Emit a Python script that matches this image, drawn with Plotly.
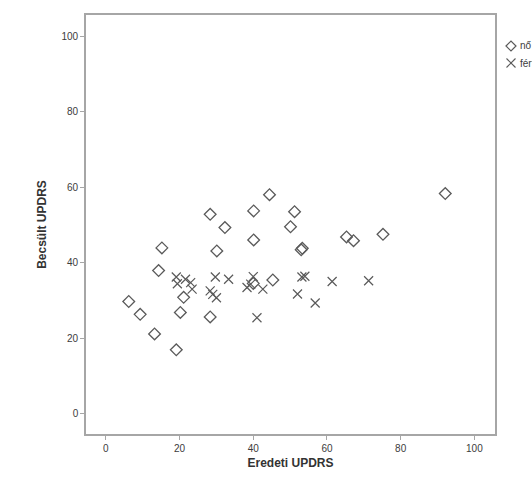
import plotly.graph_objects as go

# Eredeti vs. becsült UPDRS, nemek szerint
no_eredeti = [6.2, 9.3, 13.2, 14.3, 15.2, 19.1, 20.2, 21.1, 28.3, 28.3, 30.1, 32.3,
              40.1, 40.1, 40.0, 44.4, 45.3, 50.1, 51.2, 53.0, 53.3, 65.3, 67.2, 75.2, 92.1]
no_becsult = [29.7, 26.3, 21.1, 37.9, 43.9, 16.9, 26.8, 30.8, 25.6, 52.8, 43.1, 49.3,
              53.7, 46.0, 34.5, 58.0, 35.4, 49.5, 53.5, 43.4, 43.8, 46.8, 45.8, 47.5, 58.3]

ferfi_eredeti = [19.1, 19.4, 21.6, 23.0, 23.4, 28.3, 29.0, 30.0, 29.7, 33.3, 38.3, 39.3,
                 40.0, 42.6, 41.0, 52.0, 53.2, 54.0, 56.8, 61.4, 71.3]
ferfi_becsult = [36.2, 34.4, 35.6, 34.7, 33.0, 32.5, 31.6, 30.7, 36.2, 35.6, 33.4, 34.3,
                 36.3, 33.0, 25.4, 31.7, 36.2, 36.4, 29.3, 35.0, 35.2]

tick_vals = [0, 20, 40, 60, 80, 100]
tick_text = ["0", "20", "40", "60", "80", "100"]
legend_labels = ["nő", "férfi"]

marker_color = "#5a5a5a"
frame_color = "#a6a6a6"
text_color = "#3c3c3c"
font_family = "Liberation Sans, Arial, sans-serif"

fig = go.Figure()
fig.add_trace(go.Scatter(
    x=no_eredeti, y=no_becsult, mode="markers", name=legend_labels[0],
    marker=dict(symbol="diamond-open", size=9, color=marker_color,
                line=dict(width=1.3, color=marker_color)),
    showlegend=False,
))
fig.add_trace(go.Scatter(
    x=ferfi_eredeti, y=ferfi_becsult, mode="markers", name=legend_labels[1],
    marker=dict(symbol="x-thin-open", size=9, color=marker_color,
                line=dict(width=1.2, color=marker_color)),
    showlegend=False,
))

axis_common = dict(
    range=[-5.4, 105.6], tickvals=tick_vals, ticktext=tick_text,
    showgrid=False, zeroline=False,
    showline=True, mirror=True, linecolor=frame_color, linewidth=1.6,
    ticks="outside", ticklen=4, tickwidth=1, tickcolor=frame_color,
    tickfont=dict(family=font_family, size=10, color=text_color),
)

fig.update_layout(
    width=532, height=481,
    margin=dict(l=86, r=37, t=15, b=47, autoexpand=False),
    paper_bgcolor="white", plot_bgcolor="white",
    xaxis=dict(**axis_common,
               title=dict(text="Eredeti UPDRS", standoff=6,
                          font=dict(family=font_family, size=12, color="#333333",
                                    weight="bold"))),
    yaxis=dict(**axis_common,
               title=dict(text="Becsült UPDRS", standoff=12,
                          font=dict(family=font_family, size=12, color="#333333",
                                    weight="bold"))),
)

# Jelmagyarázat a rajzterület jobb oldalán
px_w = 532 - 86 - 37
px_h = 481 - 15 - 47


def px_to_paper(px, py):
    return (px - 86) / px_w, (481 - 47 - py) / px_h


cx, cy = px_to_paper(511, 46)
dx, dy = 5 / px_w, 5 / px_h
fig.add_shape(type="path", xref="paper", yref="paper",
              path=f"M {cx - dx} {cy} L {cx} {cy + dy} L {cx + dx} {cy} L {cx} {cy - dy} Z",
              line=dict(color=marker_color, width=1.2))
cx2, cy2 = px_to_paper(511, 63)
ex, ey = 4.5 / px_w, 4.5 / px_h
fig.add_shape(type="line", xref="paper", yref="paper",
              x0=cx2 - ex, y0=cy2 - ey, x1=cx2 + ex, y1=cy2 + ey,
              line=dict(color=marker_color, width=1.1))
fig.add_shape(type="line", xref="paper", yref="paper",
              x0=cx2 - ex, y0=cy2 + ey, x1=cx2 + ex, y1=cy2 - ey,
              line=dict(color=marker_color, width=1.1))

for label, (px, py) in zip(legend_labels, [(518, 46), (518, 63)]):
    ax, ay = px_to_paper(px, py)
    fig.add_annotation(x=ax, y=ay, xref="paper", yref="paper", text=label,
                       showarrow=False, xanchor="left", yanchor="middle",
                       font=dict(family=font_family, size=10, color=text_color))

fig.write_html("out.html")
